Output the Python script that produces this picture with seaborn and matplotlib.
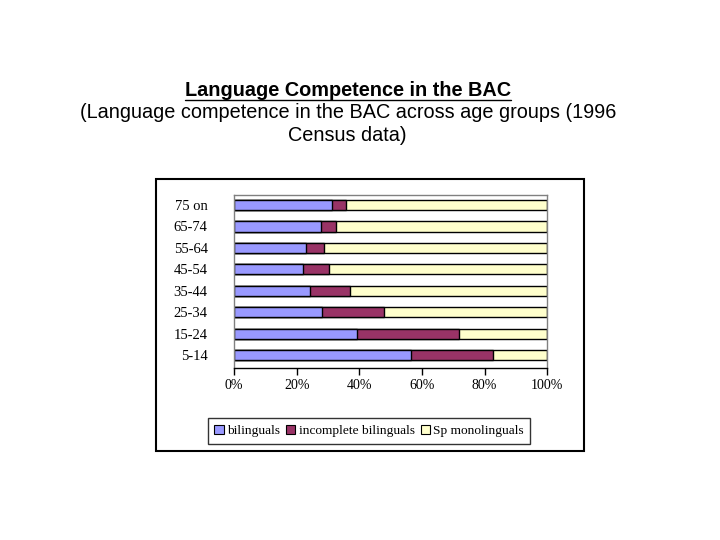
import matplotlib
matplotlib.use('Agg')
import matplotlib.pyplot as plt
import seaborn as sns
import pandas as pd
from matplotlib.patches import Patch, Rectangle
from matplotlib.lines import Line2D

age_groups = ['75 on', '65-74', '55-64', '45-54', '35-44', '25-34', '15-24', '5-14']
bilinguals = [31.2, 27.7, 23.0, 22.0, 24.3, 28.1, 39.4, 56.5]
incomplete = [4.7, 4.9, 5.8, 8.3, 12.8, 19.9, 32.5, 26.2]
monolinguals = [64.1, 67.4, 71.2, 69.7, 62.9, 52.0, 28.1, 17.3]
series_names = ['bilinguals', 'incomplete bilinguals', 'Sp monolinguals']
series_colors = ['#9999FF', '#993366', '#FFFFCC']

df = pd.DataFrame({'age': age_groups, 'bil': bilinguals, 'inc': incomplete, 'mono': monolinguals})
df['cum1'] = df['bil']
df['cum2'] = df['bil'] + df['inc']
df['cum3'] = df['cum2'] + df['mono']

sns.set_style('white')
plt.rcParams.update({'text.color': 'black', 'xtick.color': 'black', 'ytick.color': 'black',
                     'xtick.labelcolor': 'black', 'ytick.labelcolor': 'black'})
fig = plt.figure(figsize=(7.2, 5.4), dpi=100)
ax = fig.add_axes([0.325, 0.3185, 0.435, 0.3205])

# stacked bars: draw totals first, then cover with the shorter cumulative sums
for col, c in zip(['cum3', 'cum2', 'cum1'], series_colors[::-1]):
    sns.barplot(data=df, y='age', x=col, order=age_groups, color=c, orient='h',
                width=0.47, edgecolor='black', linewidth=1, saturation=1, ax=ax)

ax.set_xlim(0, 100)
ax.set_ylim(7.6, -0.47)
ax.set_xticks([0, 20, 40, 60, 80, 100])
ax.set_xticklabels(['0%', '20%', '40%', '60%', '80%', '100%'], family='Liberation Serif', fontsize=10)
ax.set_yticks(range(len(age_groups)))
ax.set_yticklabels(age_groups, family='Liberation Serif', fontsize=10.5)
ax.set_xlabel('')
ax.set_ylabel('')
ax.tick_params(axis='y', length=0, pad=19)
ax.tick_params(axis='x', length=5, width=1, direction='out', color='black', pad=3, bottom=True)
for side in ['top', 'left', 'right']:
    ax.spines[side].set_color('#808080')
    ax.spines[side].set_linewidth(1)
ax.spines['bottom'].set_color('black')
ax.spines['bottom'].set_linewidth(1)

handles = [Patch(facecolor=c, edgecolor='black', linewidth=0.8) for c in series_colors]
leg = fig.legend(handles, series_names, loc='center', bbox_to_anchor=(0.5125, 0.2019), ncol=3,
                 prop={'family': 'Liberation Serif', 'size': 9.6}, frameon=True, fancybox=False,
                 handlelength=0.7, handleheight=0.7, handletextpad=0.25, columnspacing=0.45,
                 borderpad=0.5, borderaxespad=0)
leg.get_frame().set_edgecolor('black')
leg.get_frame().set_linewidth(1)

# chart box
fig.patches.append(Rectangle((0.2167, 0.1648), 0.594, 0.5037, transform=fig.transFigure,
                             fill=False, edgecolor='black', linewidth=1.5))

t1 = fig.text(0.483, 1 - 90 / 540, 'Language Competence in the BAC', ha='center', va='center',
              family='Liberation Sans', fontsize=14.3, fontweight='bold', color='black')
fig.text(0.483, 1 - 113 / 540, '(Language competence in the BAC across age groups (1996',
         ha='center', va='center', family='Liberation Sans', fontsize=14.3, color='black')
fig.text(0.483, 1 - 136 / 540, 'Census data)', ha='center', va='center',
         family='Liberation Sans', fontsize=14.3, color='black')

fig.canvas.draw()
bb = t1.get_window_extent().transformed(fig.transFigure.inverted())
uy = 1 - 99.5 / 540
fig.lines.append(Line2D([bb.x0, bb.x1], [uy, uy], transform=fig.transFigure, color='black', linewidth=1))

fig.savefig('out.png', dpi=100, facecolor='white')
